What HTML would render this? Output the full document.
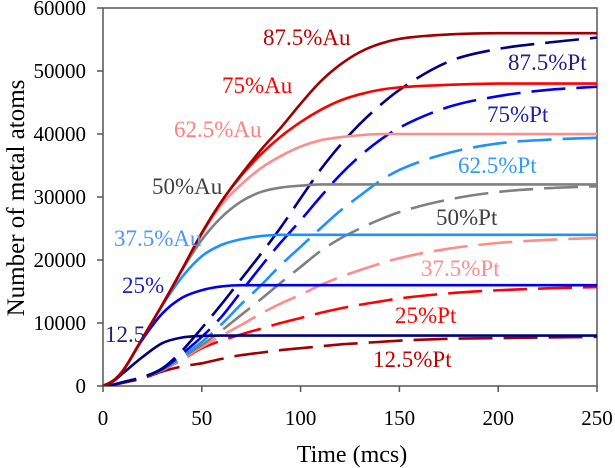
<!DOCTYPE html>
<html><head><meta charset="utf-8"><style>
html,body{margin:0;padding:0;background:#fff;}
svg{display:block;font-family:"Liberation Serif",serif;}
</style></head><body>
<svg id="chart" width="615" height="468" viewBox="0 0 615 468" xmlns="http://www.w3.org/2000/svg">
<defs><clipPath id="pc"><rect x="103" y="8" width="494" height="378"/></clipPath></defs>
<g id="grid"></g>
<g id="series" clip-path="url(#pc)"></g>
<g id="labels"></g>
</svg>
<script>
const times=[0,5,10,20,30,40,50,60,70,80,90,100,110,120,130,140,150,175,200,225,250];
const xTicks=[0,50,100,150,200,250];
const yTicks=[0,10000,20000,30000,40000,50000,60000];
const au875=[0,800,2400,7600,12900,18500,24300,29300,33600,37500,41000,44800,48300,51000,53000,54300,55100,55800,56000,56000,56000];
const au75=[0,800,2400,7600,12900,18500,24300,29300,33400,36800,39600,41900,43800,45300,46300,47000,47400,47800,48000,48000,48000];
const au625=[0,800,2400,7600,12900,18500,24100,28800,32000,34600,36500,38000,39000,39500,39800,40000,40000,40000,40000,40000,40000];
const au50=[0,800,2400,7600,12900,18400,23200,26800,29300,30800,31500,31800,32000,32000,32000,32000,32000,32000,32000,32000,32000];
const au375=[0,800,2400,7600,12800,17300,20600,22400,23300,23800,24000,24000,24000,24000,24000,24000,24000,24000,24000,24000,24000];
const au25=[0,800,2400,7400,11500,14000,15200,15800,16000,16000,16000,16000,16000,16000,16000,16000,16000,16000,16000,16000,16000];
const au125=[0,700,2000,4600,6800,7700,7950,8000,8000,8000,8000,8000,8000,8000,8000,8000,8000,8000,8000,8000,8000];
const pt875=[0,200,600,1400,2800,5600,9200,13000,17000,21000,25200,29800,34300,38200,41600,44500,47000,51500,53500,54500,55300];
const pt75=[0,200,600,1400,2700,5100,7800,11000,15000,19000,22800,26300,30000,33500,36500,39000,41000,44300,46000,47000,47500];
const pt625=[0,200,600,1400,2600,4700,7000,9800,13000,16000,19200,22100,25000,27800,30200,32500,34300,37000,38500,39100,39400];
const pt50=[0,200,600,1400,2600,4500,6500,8800,11300,13800,16400,18900,21400,23400,25000,26400,27600,29600,30800,31400,31700];
const pt375=[0,200,600,1400,2500,4300,6200,8000,9700,11500,13100,14500,16000,17300,18400,19400,20300,21800,22700,23200,23500];
const pt25=[0,200,600,1400,2500,4200,6000,7200,8200,9100,10000,10800,11600,12300,12900,13400,13900,14700,15200,15500,15700];
const pt125=[0,150,500,1200,2300,3100,3600,4300,4900,5300,5700,6000,6300,6600,6800,7000,7200,7500,7600,7700,7800];

const NS="http://www.w3.org/2000/svg";
const X0=103,X1=597,Y0=386,Y1=8;
function sx(t){return X0+(t-0)/(250-0)*(X1-X0);}
function sy(v){return Y0-(v-0)/(60000-0)*(Y0-Y1);}
function mk(tag,attrs,parent){const e=document.createElementNS(NS,tag);for(const k in attrs)e.setAttribute(k,attrs[k]);parent.appendChild(e);return e;}
const grid=document.getElementById('grid'),ser=document.getElementById('series'),lab=document.getElementById('labels');

const frame=mk('rect',{x:X0,y:Y1,width:X1-X0,height:Y0-Y1,fill:'none',stroke:'#555','stroke-width':1.5},grid);


xTicks.forEach(t=>{
  const l=mk('line',{x1:sx(t),x2:sx(t),y1:Y0,y2:Y0+6,stroke:'#555','stroke-width':1.5},grid);
  
  
  const tx=mk('text',{x:sx(t),y:425,'text-anchor':'middle','font-size':21,fill:'#000'},grid);
  tx.textContent=t;
  
  
});
yTicks.forEach(v=>{
  const l=mk('line',{x1:X0-6,x2:X0,y1:sy(v),y2:sy(v),stroke:'#555','stroke-width':1.5},grid);
  
  
  const tx=mk('text',{x:86,y:sy(v)+7,'text-anchor':'end','font-size':21,fill:'#000'},grid);
  tx.textContent=v;
  
  
});
const xt=mk('text',{x:352,y:462,'text-anchor':'middle','font-size':24,fill:'#000'},grid);
xt.textContent='Time (mcs)';


const yt=mk('text',{x:0,y:0,'text-anchor':'middle','font-size':25,fill:'#000',transform:'translate(24,198) rotate(-90)'},grid);
yt.textContent='Number of metal atoms';



function pathD(vals){
  const p=times.map((t,i)=>[sx(t),sy(vals[i])]);
  const n=p.length,d=[],m=new Array(n);
  for(let i=0;i<n-1;i++)d.push((p[i+1][1]-p[i][1])/(p[i+1][0]-p[i][0]));
  m[0]=d[0];m[n-1]=d[n-2];
  for(let i=1;i<n-1;i++){m[i]=(d[i-1]*d[i]<=0)?0:(d[i-1]+d[i])/2;}
  for(let i=0;i<n-1;i++){
    if(d[i]===0){m[i]=0;m[i+1]=0;continue;}
    const a=m[i]/d[i],b=m[i+1]/d[i],s=a*a+b*b;
    if(s>9){const t=3/Math.sqrt(s);m[i]=t*a*d[i];m[i+1]=t*b*d[i];}
  }
  let s='M'+p[0][0]+','+p[0][1];
  for(let i=0;i<n-1;i++){
    const h=(p[i+1][0]-p[i][0])/3;
    s+='C'+(p[i][0]+h)+','+(p[i][1]+m[i]*h)+' '+(p[i+1][0]-h)+','+(p[i+1][1]-m[i+1]*h)+' '+p[i+1][0]+','+p[i+1][1];
  }
  return s;
}
const series=[
 [pt125,'#a00000',true,'pt-12-5-line'],[pt25,'#ff0000',true,'pt-25-line'],[pt375,'#ff8c8c',true,'pt-37-5-line'],
 [pt50,'#808080',true,'pt-50-line'],[pt625,'#1e90ff',true,'pt-62-5-line'],[pt75,'#0000ee',true,'pt-75-line'],[pt875,'#000080',true,'pt-87-5-line'],
 [au125,'#000080',false,'au-12-5-line'],[au25,'#0000ee',false,'au-25-line'],[au375,'#1e90ff',false,'au-37-5-line'],
 [au50,'#808080',false,'au-50-line'],[au625,'#ff8c8c',false,'au-62-5-line'],[au75,'#ff0000',false,'au-75-line'],[au875,'#a00000',false,'au-87-5-line']
];
series.forEach(s=>{
  const attrs={d:pathD(s[0]),fill:'none',stroke:s[1],'stroke-width':2.6};
  if(s[2])attrs['stroke-dasharray']='34,11';
  const p=mk('path',attrs,ser);
  
  
});
const labs=[
 ['87.5%Au',263,45,'#c00000','label-87-5-au'],['75%Au',222,93,'#ff0000','label-75-au'],['62.5%Au',174,137,'#ff8080','label-62-5-au'],
 ['50%Au',152,194,'#404040','label-50-au'],['37.5%Au',114,246,'#4d94ff','label-37-5-au'],['25%',122,293,'#2020c0','label-25-au'],
 ['12.5',105,342,'#202080','label-12-5-au'],
 ['87.5%Pt',508,70,'#202080','label-87-5-pt'],['75%Pt',487,122,'#2020a0','label-75-pt'],['62.5%Pt',458,173,'#3399ff','label-62-5-pt'],
 ['50%Pt',436,225,'#404040','label-50-pt'],['37.5%Pt',421,276,'#ff8c8c','label-37-5-pt'],['25%Pt',395,323,'#ff0000','label-25-pt'],
 ['12.5%Pt',373,367,'#c00000','label-12-5-pt']
];
labs.forEach(l=>{
  const t=mk('text',{x:l[1],y:l[2],'font-size':23,fill:l[3]},lab);
  t.textContent=l[0];
  
  
});
</script>
</body></html>
